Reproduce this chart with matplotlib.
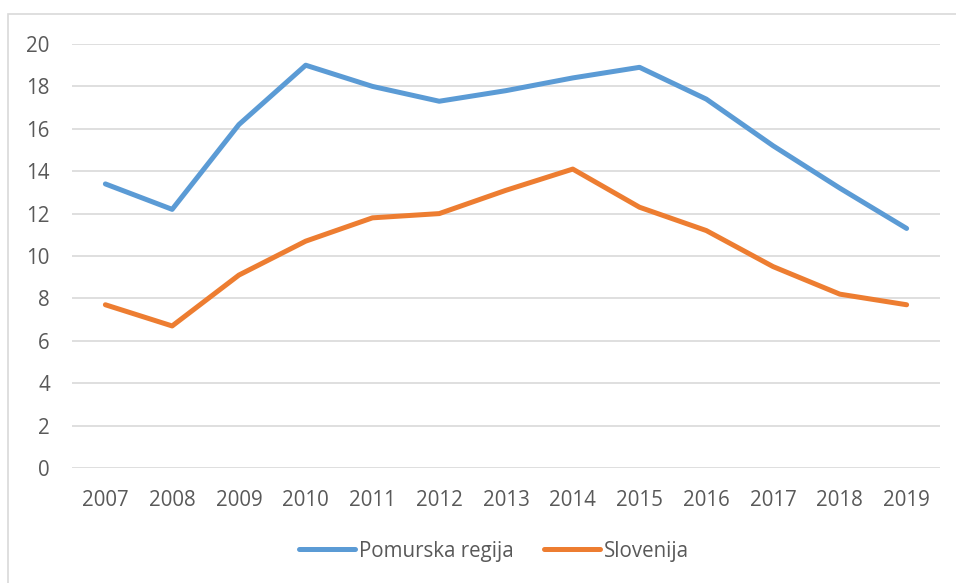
import matplotlib
matplotlib.use("Agg")
import matplotlib.pyplot as plt
from matplotlib.patches import Rectangle

years = ["2007", "2008", "2009", "2010", "2011", "2012", "2013", "2014", "2015", "2016", "2017", "2018", "2019"]
pomurska = [13.4, 12.2, 16.2, 19.0, 18.0, 17.3, 17.8, 18.4, 18.9, 17.4, 15.2, 13.2, 11.3]
slovenija = [7.7, 6.7, 9.1, 10.7, 11.8, 12.0, 13.1, 14.1, 12.3, 11.2, 9.5, 8.2, 7.7]
series_names = ["Pomurska regija", "Slovenija"]
yticks = [0, 2, 4, 6, 8, 10, 12, 14, 16, 18, 20]

W, H = 956, 583
fig = plt.figure(figsize=(W / 100, H / 100), dpi=100)
plt.rcParams['font.family'] = ['Open Sans', 'DejaVu Sans']
txt = '#595959'
fs = 14.8

# chart border
fig.patches.append(Rectangle((8 / W, -0.05), 1.2, (H - 14) / H + 0.05, transform=fig.transFigure,
                             fill=False, edgecolor='#d9d9d9', linewidth=1.2))

left, right, top, bottom = 72, 940, 44, 468
ax = fig.add_axes([left / W, 1 - bottom / H, (right - left) / W, (bottom - top) / H])
x = list(range(len(years)))
ax.plot(x, pomurska, color='#5b9bd5', linewidth=3.6, solid_capstyle='round', solid_joinstyle='round', label=series_names[0])
ax.plot(x, slovenija, color='#ed7d31', linewidth=3.6, solid_capstyle='round', solid_joinstyle='round', label=series_names[1])
ax.set_xlim(-0.5, len(years) - 0.5)
ax.set_ylim(0, 20)
ax.set_yticks(yticks)
ax.set_yticklabels([str(v) for v in yticks])
ax.set_xticks(x)
ax.set_xticklabels(years)
ax.yaxis.grid(True, color='#d9d9d9', linewidth=1.2)
ax.set_axisbelow(True)
for s in ax.spines.values():
    s.set_visible(False)
ax.tick_params(length=0, labelsize=fs, colors=txt)
ax.tick_params(axis='y', pad=16)
ax.tick_params(axis='x', pad=16)

leg = fig.legend(loc='center', bbox_to_anchor=(494 / W, 1 - 551 / H), ncol=2, frameon=False,
                 fontsize=fs, handlelength=2.7, handletextpad=0.2, columnspacing=1.5)
for t in leg.get_texts():
    t.set_color(txt)

fig.savefig("out.png", dpi=100)
